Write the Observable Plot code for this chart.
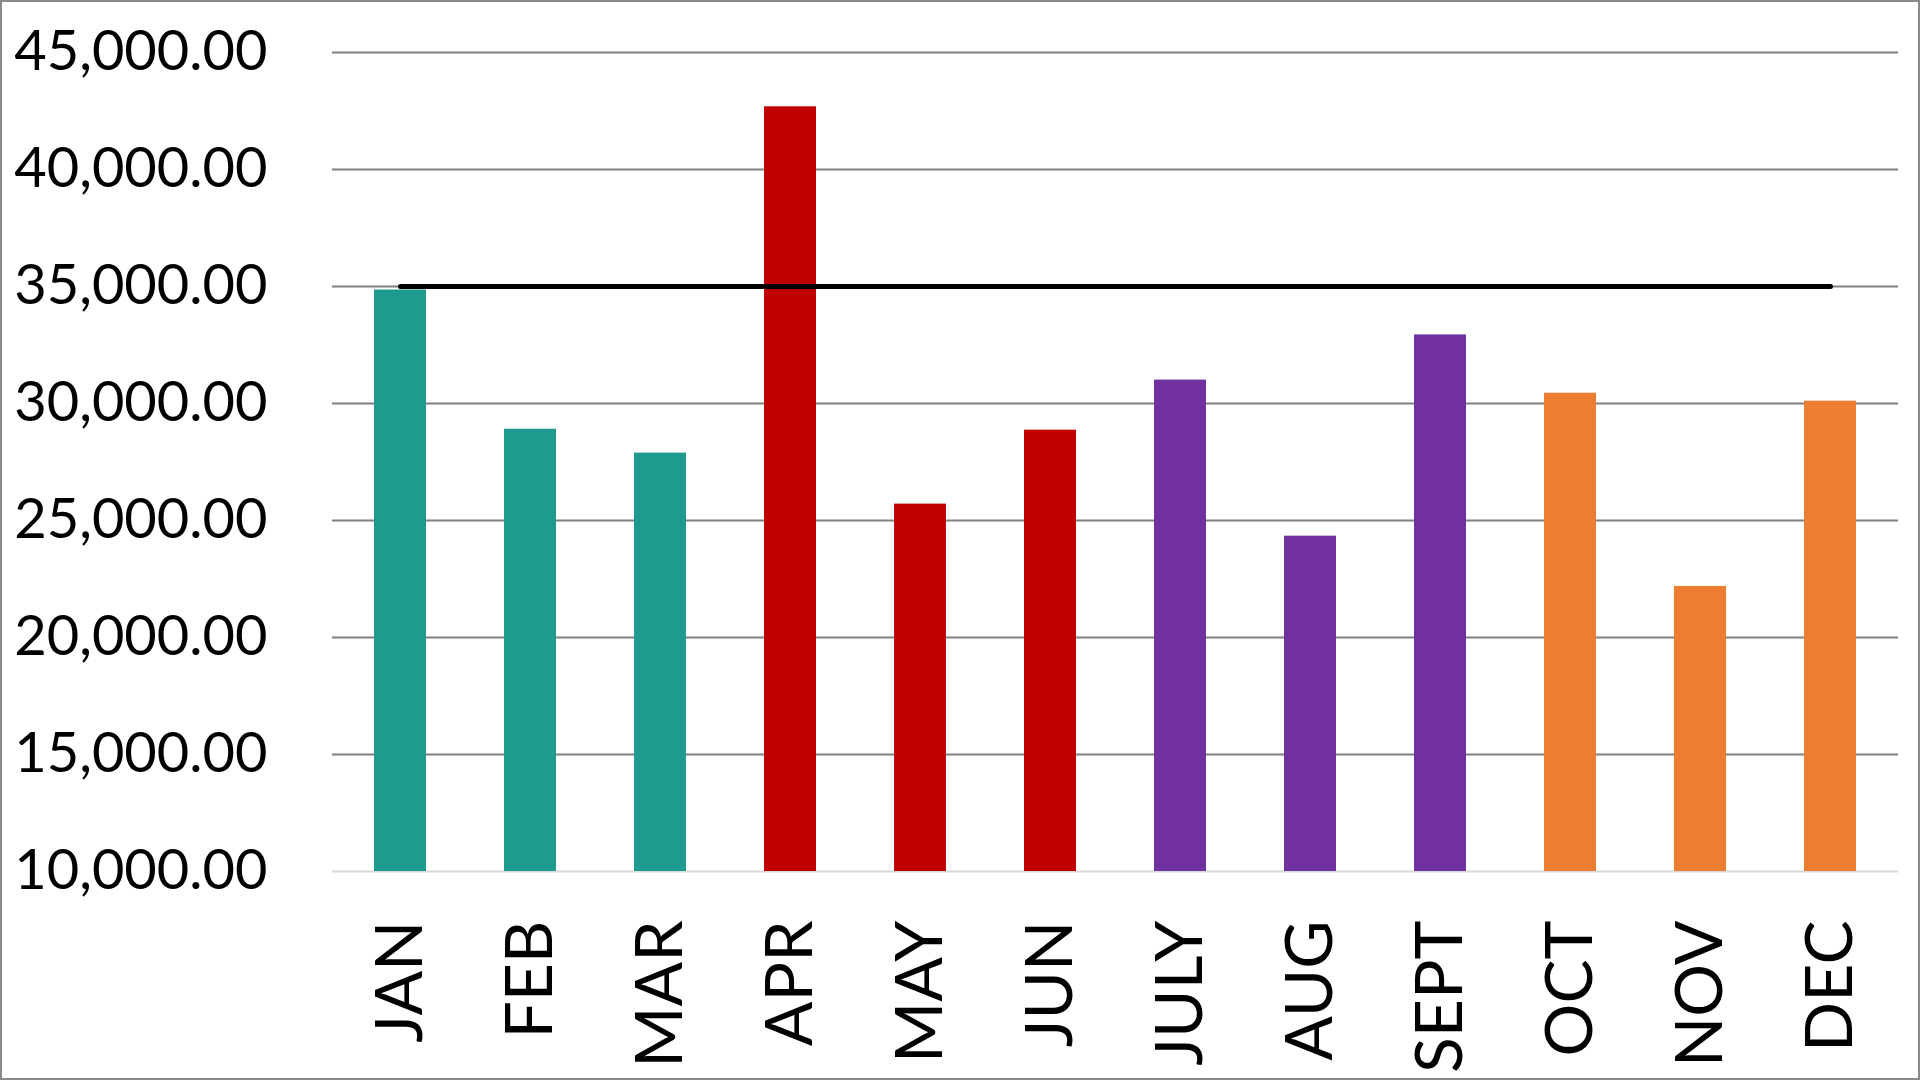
<!DOCTYPE html>
<html>
<head>
<meta charset="utf-8">
<script src="https://cdn.jsdelivr.net/npm/d3@7"></script>
<script src="https://cdn.jsdelivr.net/npm/@observablehq/plot@0.6"></script>
<style>
  html, body { margin: 0; padding: 0; background: #fff; }
  #chart svg { display: block; outline: 2px solid #8a8a8a; outline-offset: -2px; }
</style>
</head>
<body>
<div id="chart"></div>
<script>
const months = ["JAN","FEB","MAR","APR","MAY","JUN","JULY","AUG","SEPT","OCT","NOV","DEC"];
const values = [34850, 28900, 27880, 42680, 25700, 28860, 31000, 24330, 32930, 30440, 22180, 30100];
const quarters = ["Q1","Q1","Q1","Q2","Q2","Q2","Q3","Q3","Q3","Q4","Q4","Q4"];
const target = [35000, 35000, 35000, 35000, 35000, 35000, 35000, 35000, 35000, 35000, 35000, 35000];
const yTicks = [10000, 15000, 20000, 25000, 30000, 35000, 40000, 45000];

const rows = months.map((m, i) => ({month: m, value: values[i], quarter: quarters[i], target: target[i]}));
const fmt = d3.format(",.2f");

const chart = Plot.plot({
  width: 1920,
  height: 1080,
  marginLeft: 332,
  marginRight: 22,
  marginTop: 52,
  marginBottom: 209,
  style: {fontFamily: "Lato, sans-serif", background: "#fff", color: "#000"},
  x: {domain: months, paddingInner: 0.6, paddingOuter: 0.3, label: null},
  y: {domain: [10000, 45000], label: null},
  color: {domain: ["Q1","Q2","Q3","Q4"], range: ["#1E9A8E", "#C00000", "#7030A0", "#ED7D31"]},
  marks: [
    Plot.ruleY(yTicks.filter(t => t > 10000), {stroke: "#808080", strokeWidth: 2}),
    Plot.ruleY([10000], {stroke: "#d9d9d9", strokeWidth: 2}),
    Plot.barY(rows, {x: "month", y1: 10000, y2: "value", fill: "quarter"}),
    Plot.lineY(rows, {x: "month", y: "target", stroke: "#000", strokeWidth: 5}),
    Plot.axisY({ticks: yTicks, tickFormat: fmt, tickSize: 0, tickPadding: 65, fontSize: 56, label: null}),
    Plot.axisX({tickRotate: -90, tickSize: 0, tickPadding: 49, fontSize: 66, label: null})
  ]
});
document.getElementById("chart").appendChild(chart);
</script>
</body>
</html>
